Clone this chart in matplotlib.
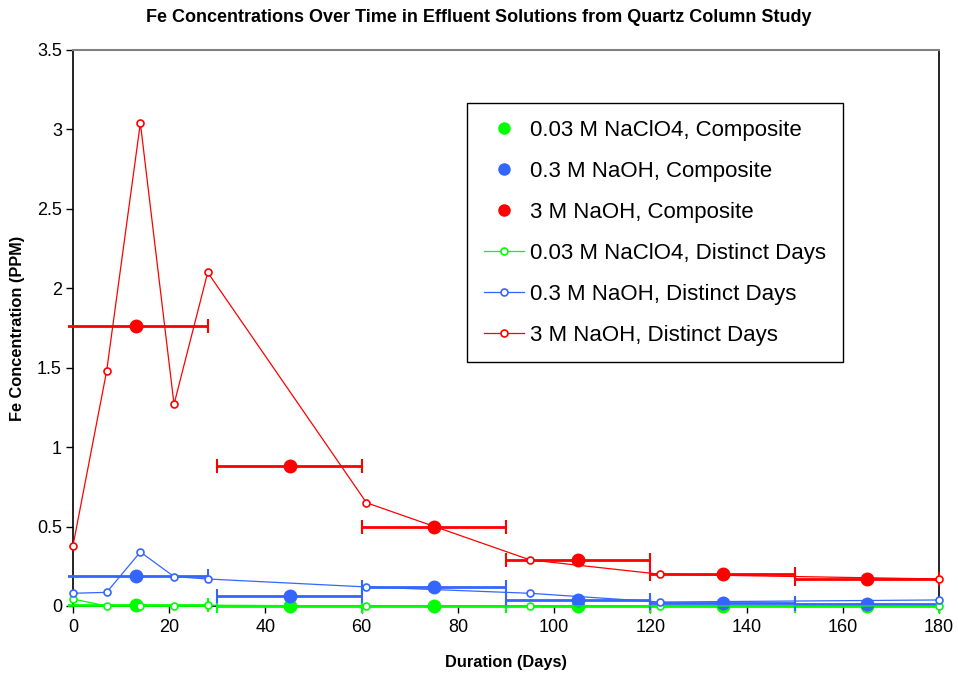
import matplotlib
matplotlib.use("Agg")
import matplotlib.pyplot as plt
from matplotlib.lines import Line2D
from matplotlib.transforms import Bbox, TransformedBbox

plt.rcParams['font.family'] = ['Liberation Sans', 'DejaVu Sans']

# Composite samples (midpoint day, value, half-width of interval)
comp_days = [13, 45, 75, 105, 135, 165]
comp_lo = [15, 15, 15, 15, 15, 15]
comp_hi = [15, 15, 15, 15, 15, 15]
comp_naclo4 = [0.005, 0.0, 0.0, 0.0, 0.0, 0.0]
comp_naoh03 = [0.19, 0.06, 0.12, 0.035, 0.02, 0.013]
comp_naoh3 = [1.76, 0.88, 0.50, 0.29, 0.20, 0.17]

# Distinct days
dist_days = [0, 7, 14, 21, 28, 61, 95, 122, 180]
dist_naclo4 = [0.044, 0.0, 0.003, 0.0, 0.005, 0.0, 0.0, 0.0, 0.0]
dist_naoh03 = [0.08, 0.086, 0.34, 0.185, 0.17, 0.12, 0.08, 0.025, 0.038]
dist_naoh3 = [0.38, 1.48, 3.04, 1.27, 2.10, 0.65, 0.29, 0.20, 0.17]

x_ticks = [0, 20, 40, 60, 80, 100, 120, 140, 160, 180]
y_ticks = [0, 0.5, 1, 1.5, 2, 2.5, 3, 3.5]
y_ticklabels = ["0", "0.5", "1", "1.5", "2", "2.5", "3", "3.5"]

GREEN = "#00FF00"
BLUE = "#3366FF"
RED = "#FF0000"

fig = plt.figure(figsize=(9.58, 6.75), dpi=100)
ax = fig.add_axes([73/958, 1-606/675, (939-73)/958, (606-50)/675])

# plot-area clip region slightly larger than the axes (like the original chart)
clipbox = TransformedBbox(Bbox([[-5/866, -12/556], [1 + 6/866, 1]]), ax.transAxes)

comp_series = [("0.03 M NaClO4, Composite", comp_naclo4, GREEN),
               ("0.3 M NaOH, Composite", comp_naoh03, BLUE),
               ("3 M NaOH, Composite", comp_naoh3, RED)]
dist_series = [("0.03 M NaClO4, Distinct Days", dist_naclo4, GREEN),
               ("0.3 M NaOH, Distinct Days", dist_naoh03, BLUE),
               ("3 M NaOH, Distinct Days", dist_naoh3, RED)]

handles = []
for label, vals, col in comp_series:
    cont = ax.errorbar(comp_days, vals, xerr=[comp_lo, comp_hi], fmt='o', color=col,
                       ecolor=col, elinewidth=2, capsize=5, capthick=1.5,
                       markersize=9, zorder=3)
    for child in cont.get_children():
        child.set_clip_box(clipbox)
    handles.append(Line2D([], [], linestyle='none', marker='o', color=col,
                          markersize=8, label=label))

for label, vals, col in dist_series:
    ln, = ax.plot(dist_days, vals, '-', color=col, linewidth=0.9, marker='o',
                  markersize=5, markerfacecolor='white', markeredgecolor=col,
                  markeredgewidth=1.2, zorder=4)
    ln.set_clip_box(clipbox)
    handles.append(Line2D([], [], color=col, linewidth=0.9, marker='o',
                          markersize=5, markerfacecolor='white',
                          markeredgecolor=col, markeredgewidth=1.2, label=label))

ax.set_xlim(0, 180)
ax.set_ylim(0, 3.5)
ax.set_xticks(x_ticks)
ax.set_yticks(y_ticks)
ax.set_yticklabels(y_ticklabels)
ax.tick_params(axis='both', labelsize=13, direction='out', length=5, width=1, color='black')
ax.tick_params(axis='y', pad=3)
ax.tick_params(axis='x', pad=4)
for s in ['left', 'bottom', 'right']:
    ax.spines[s].set_color('black')
    ax.spines[s].set_linewidth(1.2)
ax.spines['top'].set_color('#808080')
ax.spines['top'].set_linewidth(1.5)

ax.set_xlabel("Duration (Days)", fontsize=11.8, fontweight='bold', va='center')
ax.xaxis.set_label_coords(0.5, (606-662)/556)
ax.set_ylabel("Fe Concentration (PPM)", fontsize=11.8, fontweight='bold', va='center')
ax.yaxis.set_label_coords((18-73)/866, 0.5)
fig.text(0.5, 1-17/675, "Fe Concentrations Over Time in Effluent Solutions from Quartz Column Study",
         ha='center', va='center', fontsize=13, fontweight='bold')

leg = ax.legend(handles=handles, loc='upper left', bbox_to_anchor=(0.455, 0.9047),
                borderaxespad=0, fontsize=16, frameon=True, fancybox=False,
                edgecolor='black', framealpha=1, handlelength=1.8,
                labelspacing=0.9, borderpad=0.75, handletextpad=0.3)
leg.get_frame().set_linewidth(1.0)
leg.set_zorder(10)

fig.savefig("out.png", dpi=100)
